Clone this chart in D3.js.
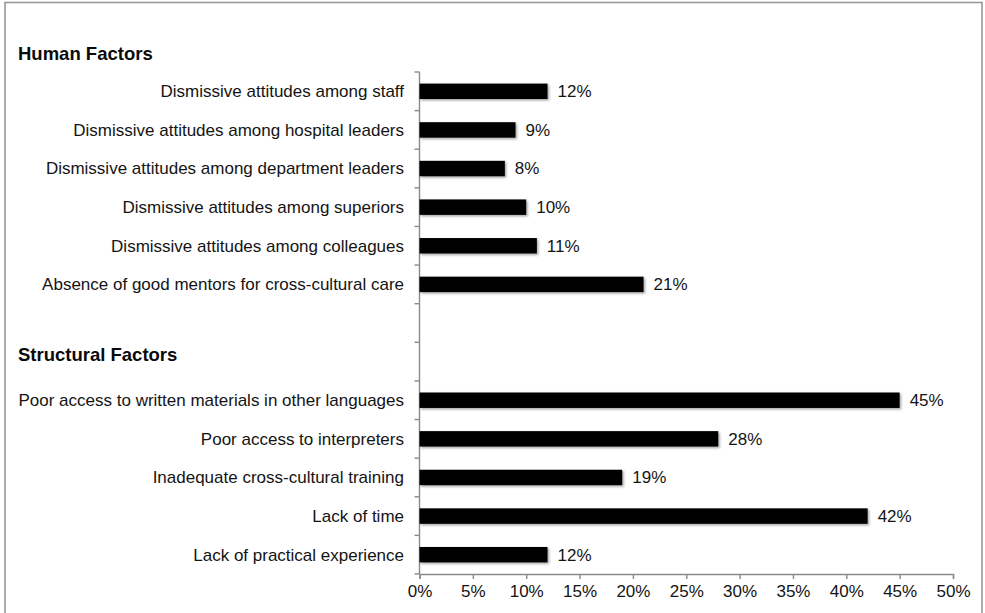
<!DOCTYPE html>
<html>
<head>
<meta charset="utf-8">
<script src="https://cdn.jsdelivr.net/npm/d3@7/dist/d3.min.js"></script>
<style>
  html, body { margin: 0; padding: 0; background: #fff; }
  svg { display: block; font-family: "Liberation Sans", Arial, sans-serif; }
</style>
</head>
<body>
<svg id="chart" width="985" height="613"></svg>
<script>
// Barriers to cross-cultural care, share of respondents (%)
const groupTitles = ["Human Factors", "Structural Factors"];

const humanFactors = [
  "Dismissive attitudes among staff",
  "Dismissive attitudes among hospital leaders",
  "Dismissive attitudes among department leaders",
  "Dismissive attitudes among superiors",
  "Dismissive attitudes among colleagues",
  "Absence of good mentors for cross-cultural care"
];
const humanValues = [12, 9, 8, 10, 11, 21];

const structuralFactors = [
  "Poor access to written materials in other languages",
  "Poor access to interpreters",
  "Inadequate cross-cultural training",
  "Lack of time",
  "Lack of practical experience"
];
const structuralValues = [45, 28, 19, 42, 12];

const xTickValues = [0, 5, 10, 15, 20, 25, 30, 35, 40, 45, 50];

// two empty slots separate the groups; the second one holds the group title
const spacerKeys = ["__gap1", "__gap2"];

const rows = [
  ...humanFactors.map((name, i) => ({ key: name, label: name, value: humanValues[i] })),
  ...spacerKeys.map(k => ({ key: k, label: "", value: null })),
  ...structuralFactors.map((name, i) => ({ key: name, label: name, value: structuralValues[i] }))
];

const svg = d3.select("#chart");
const W = 985, H = 613;
const plotLeft = 419.5, plotRight = 953, plotTop = 72, plotBottom = 574;

const textColor = "#141414";
const axisColor = "#8a8a8a";
const fontSize = 17;

// outer frame
svg.append("rect")
  .attr("x", 5).attr("y", 2.5)
  .attr("width", 977).attr("height", H + 10)
  .attr("fill", "none").attr("stroke", "#999").attr("stroke-width", 1.6);

const x = d3.scaleLinear().domain([0, 50]).range([plotLeft, plotRight]);
const y = d3.scaleBand().domain(rows.map(r => r.key)).range([plotTop, plotBottom])
  .paddingInner(0.6).paddingOuter(0.3);
const step = y.step();

// soft shadow under the bars
const defs = svg.append("defs");
const f = defs.append("filter").attr("id", "barShadow")
  .attr("x", "-5%").attr("y", "-30%").attr("width", "115%").attr("height", "190%");
f.append("feDropShadow").attr("dx", 1.5).attr("dy", 1.5).attr("stdDeviation", 1.2)
  .attr("flood-color", "#000").attr("flood-opacity", 0.35);

// y axis: vertical line with ticks on category boundaries
const yAxisG = svg.append("g");
yAxisG.append("line")
  .attr("x1", plotLeft).attr("x2", plotLeft).attr("y1", plotTop).attr("y2", plotBottom)
  .attr("stroke", axisColor).attr("stroke-width", 1.4);
const boundaries = d3.range(rows.length + 1).map(i => plotTop + i * step);
yAxisG.selectAll("line.tick").data(boundaries).join("line")
  .attr("class", "tick")
  .attr("x1", plotLeft - 5).attr("x2", plotLeft)
  .attr("y1", d => d).attr("y2", d => d)
  .attr("stroke", axisColor).attr("stroke-width", 1.4);

// x axis
const xAxis = d3.axisBottom(x).tickValues(xTickValues).tickFormat(d => d + "%").tickSize(5).tickPadding(6);
const xg = svg.append("g").attr("transform", `translate(0,${plotBottom})`).call(xAxis);
xg.select(".domain").attr("stroke", axisColor).attr("stroke-width", 1.4);
xg.selectAll(".tick line").attr("stroke", axisColor).attr("stroke-width", 1.4);
xg.selectAll(".tick text")
  .attr("fill", textColor)
  .style("font-size", fontSize + "px")
  .style("font-family", "'Liberation Sans', Arial, sans-serif");

// category labels
svg.append("g").selectAll("text").data(rows.filter(r => r.label)).join("text")
  .attr("x", 404)
  .attr("y", d => y(d.key) + y.bandwidth() / 2)
  .attr("dy", "0.35em")
  .attr("text-anchor", "end")
  .attr("fill", textColor)
  .style("font-size", fontSize + "px")
  .text(d => d.label);

// group titles
svg.append("g").selectAll("text").data(groupTitles).join("text")
  .attr("x", 18)
  .attr("y", (d, i) => i === 0 ? plotTop - step / 2 + 1 : y(spacerKeys[1]) + y.bandwidth() / 2 - 7)
  .attr("dy", "0.35em")
  .attr("fill", "#0a0a0a")
  .style("font-size", "18.5px")
  .style("font-weight", "bold")
  .text(d => d);

// bars
const data = rows.filter(r => r.value !== null);
svg.append("g").selectAll("rect").data(data).join("rect")
  .attr("x", x(0))
  .attr("y", d => y(d.key))
  .attr("width", d => x(d.value) - x(0))
  .attr("height", y.bandwidth())
  .attr("fill", "#000")
  .attr("filter", "url(#barShadow)");

// value labels
svg.append("g").selectAll("text").data(data).join("text")
  .attr("x", d => x(d.value) + 10)
  .attr("y", d => y(d.key) + y.bandwidth() / 2)
  .attr("dy", "0.35em")
  .attr("fill", textColor)
  .style("font-size", fontSize + "px")
  .text(d => d.value + "%");
</script>
</body>
</html>
